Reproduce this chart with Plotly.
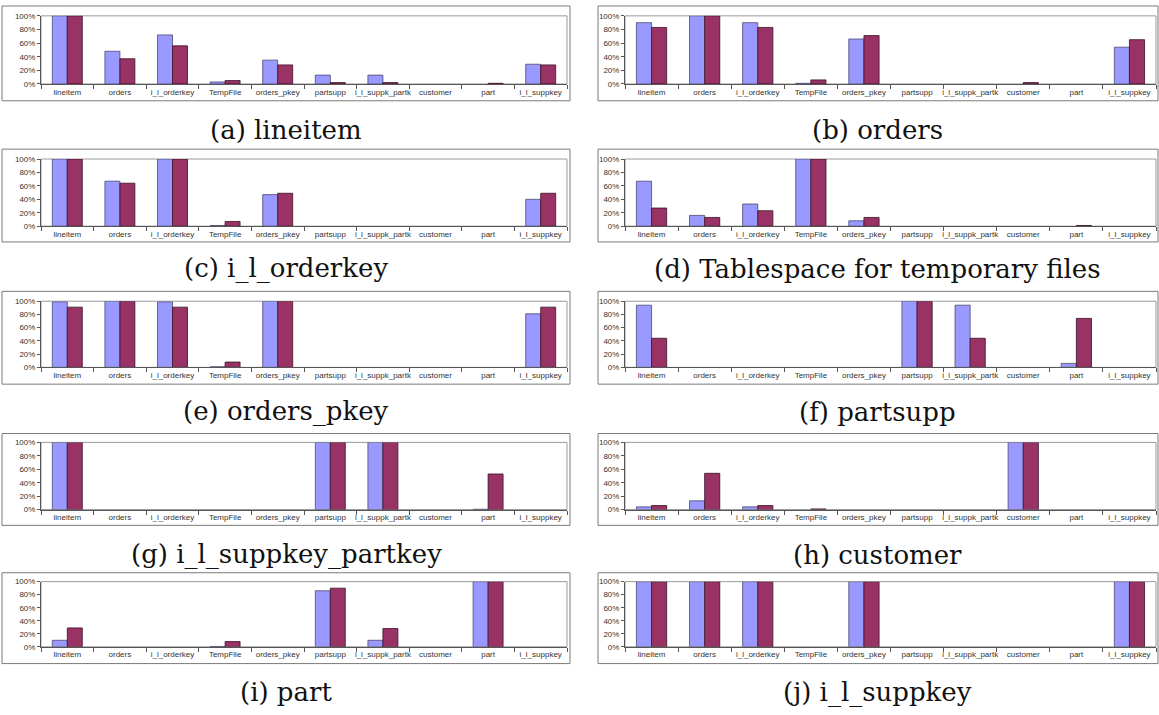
import plotly.graph_objects as go

W, H = 1159, 715

categories = ["lineitem", "orders", "i_l_orderkey", "TempFile", "orders_pkey",
              "partsupp", "i_l_suppk_partk", "customer", "part", "i_l_suppkey"]

captions = ["(a) lineitem", "(b) orders", "(c) i_l_orderkey",
            "(d) Tablespace for temporary files", "(e) orders_pkey", "(f) partsupp",
            "(g) i_l_suppkey_partkey", "(h) customer", "(i) part", "(j) i_l_suppkey"]

# share of pages per object (percent), first and second series
a_blue = [100, 48, 72, 3, 35, 13, 13, 0, 0, 29]
a_red = [100, 37, 56, 5, 28, 2, 2, 0, 1, 28]
b_blue = [90, 100, 90, 1, 66, 0, 0, 0, 0, 54]
b_red = [83, 100, 83, 6, 71, 0, 0, 2, 0, 65]
c_blue = [100, 67, 100, 1, 47, 0, 0, 0, 0, 40]
c_red = [100, 64, 100, 7, 49, 0, 0, 0, 0, 49]
d_blue = [67, 16, 33, 100, 8, 0, 0, 0, 0, 0]
d_red = [27, 13, 23, 100, 13, 0, 0, 0, 1, 0]
e_blue = [99, 100, 99, 1, 100, 0, 0, 0, 0, 81]
e_red = [91, 100, 91, 8, 100, 0, 0, 0, 0, 91]
f_blue = [94, 0, 0, 0, 0, 100, 94, 0, 6, 0]
f_red = [44, 0, 0, 0, 0, 100, 44, 0, 74, 0]
g_blue = [100, 0, 0, 0, 0, 100, 100, 0, 0.5, 0]
g_red = [100, 0, 0, 0, 0, 100, 100, 0, 53, 0]
h_blue = [4, 13, 4, 0, 0, 0, 0, 100, 0, 0]
h_red = [6, 54, 6, 1, 0, 0, 0, 100, 0, 0]
i_blue = [10, 0, 0, 0.5, 0, 86, 10, 0, 100, 0]
i_red = [29, 0, 0, 8, 0, 90, 28, 0, 100, 0]
j_blue = [100, 100, 100, 0, 100, 0, 0, 0, 0, 100]
j_red = [100, 100, 100, 0, 100, 0, 0, 0, 0, 100]

panels = [(a_blue, a_red), (b_blue, b_red), (c_blue, c_red), (d_blue, d_red),
          (e_blue, e_red), (f_blue, f_red), (g_blue, g_red), (h_blue, h_red),
          (i_blue, i_red), (j_blue, j_red)]

BLUE = "#9999FF"
RED = "#993366"

# layout in pixels
col_plot_x = [(41, 567), (625, 1156)]
col_frame_x = [(2, 570), (598, 1158)]
row_plot_y = [(12, 81), (157, 225), (301, 368), (444, 512), (585, 651)]
row_frame_y = [(2, 98), (147, 241), (291, 385), (435, 528), (576, 668)]
caption_y = [128, 268, 413, 558, 697]


def px(x):
    return x / W


def py(y):
    return 1 - y / H


fig = go.Figure()
shapes = []
annotations = []
layout_axes = {}

for k, (blue, red) in enumerate(panels):
    r, c = divmod(k, 2)
    n = k + 1
    xa = "x" if n == 1 else f"x{n}"
    ya = "y" if n == 1 else f"y{n}"
    for vals, color, line_color in ((blue, BLUE, "#4a4a70"), (red, RED, "#3a1026")):
        fig.add_trace(go.Bar(
            x=categories, y=[v / 100 for v in vals], xaxis=xa, yaxis=ya,
            marker=dict(color=color,
                        line=dict(color=line_color,
                                  width=[0.8 if v > 0 else 0 for v in vals])),
            showlegend=False, hoverinfo="skip"))
    x0, x1 = col_plot_x[c]
    y0, y1 = row_plot_y[r]
    xkey = "xaxis" if n == 1 else f"xaxis{n}"
    ykey = "yaxis" if n == 1 else f"yaxis{n}"
    layout_axes[xkey] = dict(
        domain=[px(x0), px(x1)], anchor=ya, type="category",
        showline=True, linecolor="#555", linewidth=1,
        ticks="outside", tickson="boundaries", ticklen=4, tickcolor="#555",
        tickangle=0,
        tickfont=dict(family="Liberation Sans", size=8, color="#333"),
        showgrid=False, fixedrange=True)
    layout_axes[ykey] = dict(
        domain=[py(y1), py(y0)], anchor=xa, range=[0, 1],
        tickvals=[0, 0.2, 0.4, 0.6, 0.8, 1.0], tickformat=".0%",
        showline=True, linecolor="#555", linewidth=1,
        ticks="outside", ticklen=3, tickcolor="#555",
        tickfont=dict(family="Liberation Sans", size=8, color="#333"),
        showgrid=False, zeroline=False, fixedrange=True)
    # plot-area border
    shapes.append(dict(type="rect", xref="paper", yref="paper",
                       x0=px(x0), x1=px(x1), y0=py(y1), y1=py(y0),
                       line=dict(color="#9a9a9a", width=1), layer="below"))
    # chart-area frame
    fx0, fx1 = col_frame_x[c]
    fy0, fy1 = row_frame_y[r]
    shapes.append(dict(type="rect", xref="paper", yref="paper",
                       x0=px(fx0), x1=px(fx1), y0=py(fy1), y1=py(fy0),
                       line=dict(color="#7a7a7a", width=1), layer="below"))
    annotations.append(dict(
        text=captions[k], xref="paper", yref="paper",
        x=px((fx0 + fx1) / 2), y=py(caption_y[r]),
        xanchor="center", yanchor="middle", showarrow=False,
        font=dict(family="DejaVu Serif", size=26, color="#111")))

fig.update_layout(
    width=W, height=H, margin=dict(l=0, r=0, t=0, b=0),
    paper_bgcolor="white", plot_bgcolor="white",
    barmode="group", bargap=0.43, bargroupgap=0,
    shapes=shapes, annotations=annotations, **layout_axes)

fig.write_html("out.html")
